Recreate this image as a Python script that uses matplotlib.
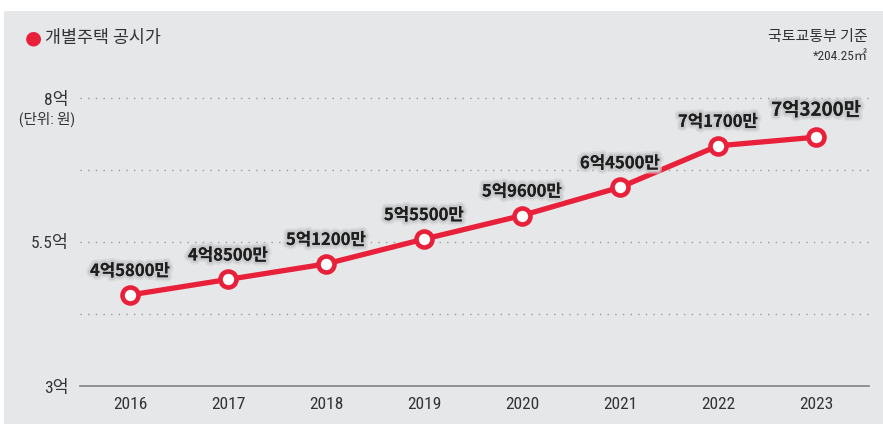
import matplotlib
matplotlib.use("Agg")
import matplotlib.pyplot as plt
import matplotlib.patheffects as pe
from matplotlib import font_manager
from matplotlib.patches import Rectangle

# Official individual house price (unit: 10,000 KRW)
years = [2016, 2017, 2018, 2019, 2020, 2021, 2022, 2023]
prices_man = [45800, 48500, 51200, 55500, 59600, 64500, 71700, 73200]
ytick_values = [3, 5.5, 8]
ytick_labels = ["3억", "5.5억", "8억"]
grid_values = [4.25, 5.5, 6.75, 8]

RED = "#E8203A"
BG = "#E6E7E9"
KR = ["Noto Sans CJK KR", "DejaVu Sans"]

# pick a condensed face for the numeric labels if one is installed
installed = {f.name for f in font_manager.fontManager.ttflist}
narrow_face = None
for cand in ["Liberation Sans Narrow", "Roboto Condensed", "DejaVu Sans Condensed"]:
    if cand in installed:
        narrow_face = cand
        break
if narrow_face is None:
    NARROW = dict(family=["DejaVu Sans", "Noto Sans CJK KR"], stretch="condensed")
else:
    NARROW = dict(family=[narrow_face, "Noto Sans CJK KR", "DejaVu Sans"])

W, H = 883, 424
fig = plt.figure(figsize=(W / 100, H / 100), dpi=100)
fig.patch.set_facecolor("white")
fig.patches.append(Rectangle((4 / W, 0), 1, 1 - 11 / H, transform=fig.transFigure,
                             facecolor=BG, edgecolor="none", zorder=-10))

# axes: x from 80px to 869px, y=3 at 386px, y=8 at 98px
left, right = 80 / W, 869 / W
bottom = (H - 386) / H
ppu = (386 - 98) / 5.0
top_val = 8.6
ax_h = (top_val - 3) * ppu / H
ax = fig.add_axes([left, bottom, right - left, ax_h])
ax.set_facecolor("none")
ax.set_xlim(2016 - 50 / 98, 2023 + 53 / 98)
ax.set_ylim(3, top_val)

for s in ["top", "right", "left"]:
    ax.spines[s].set_visible(False)
ax.spines["bottom"].set_color("#8a8a8a")
ax.spines["bottom"].set_linewidth(1.3)

for g in grid_values:
    ax.axhline(g, color="#9a9a9a", lw=1.0, ls=(0, (1, 4.5)), zorder=1)

vals = [p / 10000 for p in prices_man]
ax.plot(years, vals, color=RED, lw=3.8, zorder=3, solid_capstyle="round")
ax.plot(years, vals, ls="none", marker="o", ms=11.5, mfc="white", mec=RED,
        mew=3.3, zorder=4)

halo = [pe.withStroke(linewidth=6, foreground="#d2d3d5", alpha=0.6),
        pe.withStroke(linewidth=3.5, foreground="#cacbcd"), pe.Normal()]
for i, (x, p) in enumerate(zip(years, prices_man)):
    label = f"{p // 10000}억{p % 10000}만"
    last = i == len(years) - 1
    ax.annotate(label, (x, p / 10000), xytext=(0, 27 if last else 24),
                textcoords="offset pixels", ha="center", va="center",
                fontsize=13.5 if last else 12, fontweight="bold",
                family=KR, color="#1e1e1e", path_effects=halo, zorder=5)

ax.set_xticks(years)
ax.set_xticklabels([str(y) for y in years], fontsize=12.5, color="#333333",
                   **NARROW)
ax.set_yticks(ytick_values)
ax.set_yticklabels(ytick_labels, fontsize=12.5, color="#333333", **NARROW)
ax.tick_params(axis="both", length=0)
ax.tick_params(axis="x", pad=8)
ax.tick_params(axis="y", pad=8)

fig.text(47 / W, 1 - 119 / H, "(단위: 원)", fontsize=10.5,
         color="#333333", ha="center", va="center", **NARROW)

# header
fig.text(33 / W, 1 - 38 / H, "●", color=RED, fontsize=14, ha="center",
         va="center", family=["DejaVu Sans"])
fig.text(45 / W, 1 - 38 / H, "개별주택 공시가", family=KR, fontsize=12.5,
         color="#333333", ha="left", va="center")
fig.text(868 / W, 1 - 37 / H, "국토교통부 기준", family=KR, fontsize=10.8,
         color="#333333", ha="right", va="center")
fig.text(868 / W, 1 - 56 / H, "*204.25㎡", fontsize=9.5,
         color="#333333", ha="right", va="center", **NARROW)

fig.savefig("out.png", dpi=100, facecolor=fig.get_facecolor())
